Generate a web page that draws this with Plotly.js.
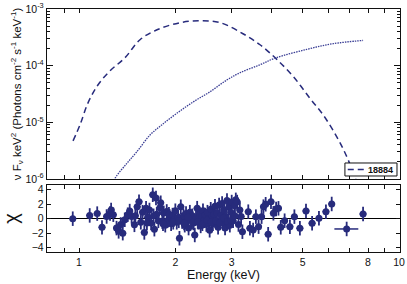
<!DOCTYPE html>
<html>
<head>
<meta charset="utf-8">
<script src="https://cdn.plot.ly/plotly-3.0.1.min.js"></script>
<style>html,body{margin:0;padding:0;background:#fff;}#plot{width:407px;height:284px;}</style>
</head>
<body>
<div id="plot"></div>
<script>
// Model components (keV, nuFnu)
const dashE = [0.958, 1.007, 1.067, 1.147, 1.250, 1.392, 1.551, 1.753, 2.068, 2.388, 2.761, 3.254, 3.678, 4.15, 4.68, 5.27, 5.80, 6.39, 6.87, 7.29, 7.60];
const dashF = [4.71e-6, 9.0e-6, 2.21e-5, 4.6e-5, 8.1e-5, 1.38e-4, 2.87e-4, 4.30e-4, 5.73e-4, 6.21e-4, 5.73e-4, 3.66e-4, 2.34e-4, 1.29e-4, 6.36e-5, 2.64e-5, 1.34e-5, 5.55e-6, 2.46e-6, 1.05e-6, 5.5e-7];
const dotE = [1.25, 1.296, 1.410, 1.515, 1.667, 1.813, 2.020, 2.276, 2.566, 2.894, 3.186, 3.680, 4.10, 5.15, 6.22, 7.72];
const dotF = [6.5e-7, 1.03e-6, 1.88e-6, 3.01e-6, 5.98e-6, 8.99e-6, 1.44e-5, 2.30e-5, 3.46e-5, 5.57e-5, 7.51e-5, 1.04e-4, 1.36e-4, 1.94e-4, 2.44e-4, 2.79e-4];
const legendName = '18884';

// Residuals (delta chi)
const resE = [0.956, 1.08, 1.14, 1.18, 1.22, 1.25, 1.26, 1.28, 1.31, 1.33, 1.35, 1.37, 1.39, 1.42, 1.44, 1.46, 1.49, 1.50, 1.52, 1.54,
  1.56, 1.58, 1.60, 1.62, 1.64, 1.66, 1.68, 1.70, 1.72, 1.74, 1.75, 1.77, 1.79, 1.80, 1.82, 1.84, 1.86, 1.88, 1.90, 1.92,
  1.94, 1.96, 1.98, 2.00, 2.02, 2.04, 2.06, 2.08, 2.10, 2.12, 2.14, 2.16, 2.18, 2.20, 2.22, 2.24, 2.26, 2.28, 2.30, 2.32,
  2.34, 2.36, 2.38, 2.40, 2.42, 2.44, 2.46, 2.48, 2.50, 2.52, 2.54, 2.56, 2.58, 2.60, 2.62, 2.64, 2.66, 2.68, 2.70, 2.72,
  2.74, 2.76, 2.78, 2.80, 2.82, 2.84, 2.86, 2.88, 2.90, 2.92, 2.94, 2.96, 2.98, 3.00, 3.03, 3.06, 3.09, 3.12, 3.15, 3.18,
  3.21, 1.63, 1.71, 1.83, 1.91, 1.97, 2.05, 2.13, 2.19, 2.27, 2.35, 2.43, 2.51, 2.59, 2.67, 2.75, 2.83, 2.91, 2.99, 3.07,
  3.24, 3.38, 3.42, 3.50, 3.57, 3.64, 3.72, 3.77, 3.83, 3.90, 3.98, 4.05, 4.13, 4.20, 4.27, 4.39, 4.56, 4.71, 4.90, 5.12,
  5.35, 5.62, 5.91, 6.16, 7.72];
const resChi = [0.0, 0.45, 0.7, -1.2, 0.3, 0.7, 1.2, 0.55, -1.3, -1.75, -0.8, -2.0, -0.15, 0.55, 1.05, 0.3, -0.85, 0.4, 1.65, 2.35,
  -0.5, 0.9, -1.9, 1.45, 0.2, 1.2, -0.6, 3.3, -1.45, 2.85, 0.6, -0.3, 1.5, 2.2, -0.4, 0.8, -0.9, 1.0, -0.2, 0.3,
  -0.7, 0.5, -0.1, 1.1, -0.5, 0.2, -2.7, 1.65, -0.4, 0.4, -0.9, 0.7, -0.3, -1.3, 0.9, -0.2, 0.4, -0.6, -2.25, 0.1,
  1.45, -0.5, 0.6, -1.0, 0.3, 1.1, -0.3, 0.5, -0.8, 0.9, -0.1, -1.6, 1.3, 0.2, -0.7, 0.6, 1.7, -0.4, 0.8, -1.2,
  1.9, -0.2, 0.5, 2.1, -0.6, 1.2, -1.3, 0.3, 2.5, -0.5, 1.6, -0.9, 0.9, 2.3, -0.3, 1.8, 2.6, 2.3, -0.8, 1.2,
  0.3, -0.6, 0.4, -0.7, 0.6, -0.5, -0.3, -0.6, 0.2, -0.5, -0.4, -0.7, -0.2, -0.5, -0.3, -0.6, 0.1, -0.4, -0.2, 0.4,
  -1.8, 0.97, -1.32, -1.56, 0.28, -1.1, 0.28, 1.66, 1.99, -2.15, 2.34, 0.74, 1.34, 1.43, -1.19, -0.28, -1.1, 0.28, -1.32, 1.06,
  -0.63, 0.05, 0.97, 2.03, 0.65];
const wideE = [6.86];
const wideChi = [-1.42];
const wideHi = [0.60];
const wideLo = [0.58];

const energyTicks = [1, 2, 3, 5, 8, 10];
const energyLabels = ['1', '2', '3', '5', '8', '10'];
const energyMinor = [0.9, 4, 6, 7, 9];
const fluxTicks = [1e-6, 1e-5, 1e-4, 1e-3];
const fluxLabels = ['10<sup>-6</sup>', '10<sup>-5</sup>', '10<sup>-4</sup>', '10<sup>-3</sup>'];
const fluxMinor = [2e-6,3e-6,4e-6,5e-6,6e-6,7e-6,8e-6,9e-6,2e-5,3e-5,4e-5,5e-5,6e-5,7e-5,8e-5,9e-5,2e-4,3e-4,4e-4,5e-4,6e-4,7e-4,8e-4,9e-4];
const chiTicks = [-4, -2, 0, 2, 4];

const navy = '#272b7c';
const font = 'Liberation Sans, Arial, sans-serif';

const traces = [
  {x: dashE, y: dashF, xaxis: 'x', yaxis: 'y', mode: 'lines', name: legendName,
   line: {color: navy, width: 1.5, dash: '6px,4px', shape: 'spline', smoothing: 1}, showlegend: false},
  {x: dotE, y: dotF, xaxis: 'x', yaxis: 'y', mode: 'lines',
   line: {color: '#3a3e95', width: 1.3, dash: '1.5px,1px', shape: 'spline', smoothing: 1}, showlegend: false},
  {x: resE, y: resChi, xaxis: 'x2', yaxis: 'y2', mode: 'markers',
   marker: {color: navy, size: 7},
   error_y: {type: 'constant', value: 1, color: navy, thickness: 1.8, width: 0},
   error_x: {type: 'percent', value: 2.5, color: navy, thickness: 1.5, width: 0},
   showlegend: false},
  {x: wideE, y: wideChi, xaxis: 'x2', yaxis: 'y2', mode: 'markers',
   marker: {color: navy, size: 7},
   error_y: {type: 'constant', value: 1, color: navy, thickness: 1.8, width: 0},
   error_x: {type: 'data', symmetric: false, array: wideHi, arrayminus: wideLo, color: navy, thickness: 1.5, width: 0},
   showlegend: false}
];

const axisCommon = {
  showline: true, linecolor: '#111', linewidth: 1.2, mirror: 'ticks',
  ticks: 'inside', tickcolor: '#111', tickwidth: 1, showgrid: false, zeroline: false,
  tickfont: {family: font, size: 10.5, color: '#111'}
};
const energyMinorSpec = {tickmode: 'array', tickvals: energyMinor, ticks: 'inside', ticklen: 4, tickcolor: '#111', tickwidth: 1, showgrid: false};

const layout = {
  width: 407, height: 284,
  margin: {l: 47, r: 7, t: 9, b: 32},
  paper_bgcolor: '#fff', plot_bgcolor: '#fff',
  showlegend: false,
  font: {family: font, color: '#111'},
  xaxis: Object.assign({}, axisCommon, {
    type: 'log', range: [-0.1, 1.003], domain: [0, 1], anchor: 'y',
    tickmode: 'array', tickvals: energyTicks, ticktext: energyLabels,
    showticklabels: false, ticklen: 4, minor: energyMinorSpec
  }),
  yaxis: Object.assign({}, axisCommon, {
    type: 'log', range: [-6, -3], domain: [0.3004, 1], anchor: 'x',
    tickmode: 'array', tickvals: fluxTicks, ticktext: fluxLabels, ticklen: 6,
    minor: {tickmode: 'array', tickvals: fluxMinor, ticks: 'inside', ticklen: 3, tickcolor: '#111', tickwidth: 1, showgrid: false},
    title: {text: 'ν F<sub>ν</sub> keV<sup>2</sup> (Photons cm<sup>-2</sup> s<sup>-1</sup> keV<sup>-1</sup>)',
            font: {family: font, size: 11.5, color: '#111'}, standoff: 1}
  }),
  xaxis2: Object.assign({}, axisCommon, {
    type: 'log', range: [-0.1, 1.003], domain: [0, 1], anchor: 'y2',
    tickmode: 'array', tickvals: energyTicks, ticktext: energyLabels, ticklen: 4,
    minor: energyMinorSpec,
    title: {text: 'Energy (keV)', font: {family: font, size: 12.5, color: '#111'}, standoff: 3}
  }),
  yaxis2: Object.assign({}, axisCommon, {
    range: [-4.6, 4.65], domain: [0, 0.2757], anchor: 'x2',
    tickmode: 'array', tickvals: chiTicks, ticklen: 4,
    zeroline: true, zerolinecolor: '#000', zerolinewidth: 1.5,
    title: {text: 'χ', font: {family: font, size: 20, color: '#111'}, standoff: 8}
  }),
  shapes: [
    {type: 'rect', xref: 'paper', yref: 'paper', x0: 0.844, x1: 0.9915, y0: 0.3128, y1: 0.3663,
     line: {color: '#111', width: 1}, fillcolor: '#fff', layer: 'above'},
    {type: 'line', xref: 'paper', yref: 'paper', x0: 0.852, x1: 0.898, y0: 0.3395, y1: 0.3395,
     line: {color: navy, width: 1.5, dash: '6px,4px'}, layer: 'above'}
  ],
  annotations: [
    {xref: 'paper', yref: 'paper', x: 0.945, y: 0.3395, xanchor: 'center', yanchor: 'middle',
     text: '<b>' + legendName + '</b>', showarrow: false, font: {family: font, size: 9, color: '#111'}}
  ]
};

Plotly.newPlot('plot', traces, layout, {displayModeBar: false, staticPlot: true});
</script>
</body>
</html>
